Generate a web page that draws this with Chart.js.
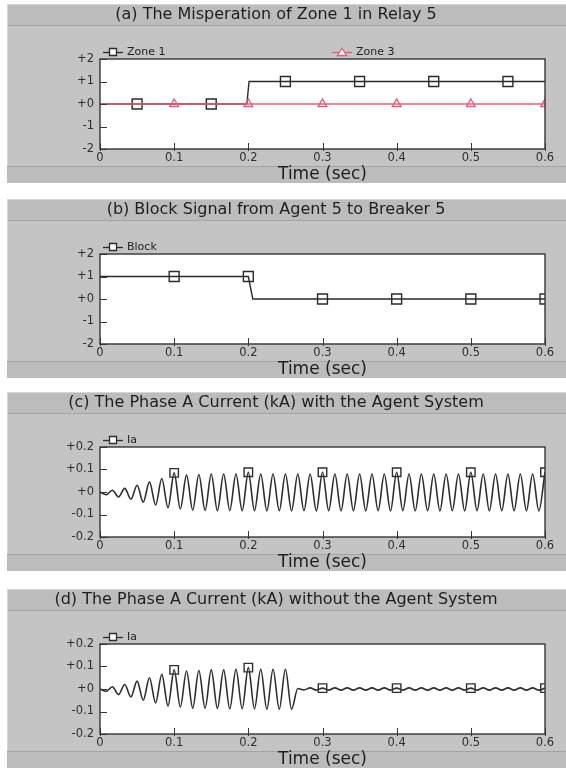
<!DOCTYPE html>
<html><head><meta charset="utf-8">
<script src="https://cdn.jsdelivr.net/npm/chart.js@4.4.1/dist/chart.umd.min.js"></script>
<style>
html,body{margin:0;padding:0;background:#fff;width:566px;height:768px;overflow:hidden;}
.panel{position:absolute;left:7px;width:559px;height:179px;}
canvas{display:block;}
</style></head><body>
<div class="panel" style="top:4px"><canvas id="cA" width="559" height="179"></canvas></div>
<div class="panel" style="top:199px"><canvas id="cB" width="559" height="179"></canvas></div>
<div class="panel" style="top:392px"><canvas id="cC" width="559" height="179"></canvas></div>
<div class="panel" style="top:589px"><canvas id="cD" width="559" height="179"></canvas></div>
<script>
// ---------- data ----------
const TITLES = [
  '(a) The Misperation of Zone 1 in Relay 5',
  '(b) Block Signal from Agent 5 to Breaker 5',
  '(c) The Phase A Current (kA) with the Agent System',
  '(d) The Phase A Current (kA) without the Agent System'
];
const X_TITLE = 'Time (sec)';
const X_TICK_VALUES = [0, 0.1, 0.2, 0.3, 0.4, 0.5, 0.6];
const X_TICK_LABELS = ['0', '0.1', '0.2', '0.3', '0.4', '0.5', '0.6'];
const Y_TICK_VALUES_STATE = [-2, -1, 0, 1, 2];
const Y_TICK_LABELS_STATE = ['-2', '-1', '+0', '+1', '+2'];
const Y_TICK_VALUES_CURRENT = [-0.2, -0.1, 0, 0.1, 0.2];
const Y_TICK_LABELS_CURRENT = ['-0.2', '-0.1', '+0', '+0.1', '+0.2'];

// (a) Zone 1 / Zone 3
const ZONE1_T = [0, 0.05, 0.15, 0.198, 0.201, 0.25, 0.35, 0.45, 0.55, 0.6];
const ZONE1_V = [0, 0, 0, 0, 1, 1, 1, 1, 1, 1];
const ZONE1_MARKS = [0.05, 0.15, 0.25, 0.35, 0.45, 0.55];
const ZONE3_T = [0, 0.1, 0.2, 0.3, 0.4, 0.5, 0.6];
const ZONE3_V = [0, 0, 0, 0, 0, 0, 0];
const ZONE3_MARKS = [0.1, 0.2, 0.3, 0.4, 0.5, 0.6];

// (b) Block
const BLOCK_T = [0, 0.1, 0.2, 0.206, 0.3, 0.4, 0.5, 0.6];
const BLOCK_V = [1, 1, 1, 0, 0, 0, 0, 0];
const BLOCK_MARKS = [0.1, 0.2, 0.3, 0.4, 0.5, 0.6];

// (c), (d) Ia : times of successive peaks / troughs (sec)
const IA_T = [0, 0.0083, 0.0167, 0.025, 0.0333, 0.0417, 0.05, 0.0583, 0.0667, 0.075, 0.0833, 0.0917, 0.1,
  0.1083, 0.1167, 0.125, 0.1333, 0.1417, 0.15, 0.1583, 0.1667, 0.175, 0.1833, 0.1917, 0.2,
  0.2083, 0.2167, 0.225, 0.2333, 0.2417, 0.25, 0.2583, 0.2667, 0.275, 0.2833, 0.2917, 0.3,
  0.3083, 0.3167, 0.325, 0.3333, 0.3417, 0.35, 0.3583, 0.3667, 0.375, 0.3833, 0.3917, 0.4,
  0.4083, 0.4167, 0.425, 0.4333, 0.4417, 0.45, 0.4583, 0.4667, 0.475, 0.4833, 0.4917, 0.5,
  0.5083, 0.5167, 0.525, 0.5333, 0.5417, 0.55, 0.5583, 0.5667, 0.575, 0.5833, 0.5917, 0.6];
const IA_WITH = [0, -0.012, 0.008, -0.022, 0.016, -0.032, 0.03, -0.045, 0.045, -0.058, 0.06, -0.07, 0.085,
  -0.075, 0.075, -0.08, 0.078, -0.082, 0.08, -0.083, 0.08, -0.082, 0.08, -0.083, 0.088,
  -0.083, 0.08, -0.084, 0.08, -0.083, 0.08, -0.084, 0.08, -0.083, 0.08, -0.084, 0.088,
  -0.083, 0.08, -0.084, 0.08, -0.083, 0.08, -0.084, 0.08, -0.083, 0.08, -0.084, 0.088,
  -0.083, 0.08, -0.084, 0.08, -0.083, 0.08, -0.084, 0.08, -0.083, 0.08, -0.084, 0.088,
  -0.083, 0.08, -0.084, 0.08, -0.083, 0.08, -0.084, 0.08, -0.083, 0.08, -0.084, 0.088];
const IA_WITHOUT = [0, -0.01, 0.01, -0.025, 0.02, -0.035, 0.035, -0.05, 0.05, -0.062, 0.065, -0.075, 0.085,
  -0.08, 0.08, -0.085, 0.082, -0.085, 0.085, -0.086, 0.085, -0.088, 0.088, -0.088, 0.095,
  -0.088, 0.088, -0.09, 0.088, -0.09, 0.088, -0.09, 0.002, -0.004, 0.005, -0.005, 0.004,
  -0.005, 0.005, -0.005, 0.005, -0.005, 0.005, -0.005, 0.005, -0.005, 0.005, -0.005, 0.004,
  -0.005, 0.005, -0.005, 0.005, -0.005, 0.005, -0.005, 0.005, -0.005, 0.005, -0.005, 0.004,
  -0.005, 0.005, -0.005, 0.005, -0.005, 0.005, -0.005, 0.005, -0.005, 0.005, -0.005, 0.004];
const IA_MARKS = [0.1, 0.2, 0.3, 0.4, 0.5, 0.6];

// ---------- helpers ----------
const FONT = 'DejaVu Sans';
function series(times, values, marks, r) {
  const data = times.map((t, i) => ({x: t, y: values[i]}));
  const radii = times.map(t => marks.some(m => Math.abs(m - t) < 1e-6) ? r : 0);
  return {data, radii};
}
function lineDataset(label, s, color, style, width, smooth) {
  return {
    label, data: s.data, borderColor: color, borderWidth: width,
    pointStyle: style, pointRadius: s.radii, pointHoverRadius: s.radii,
    pointBorderColor: color, pointBackgroundColor: 'rgba(0,0,0,0)', pointBorderWidth: 1.4,
    tension: 0, fill: false, cubicInterpolationMode: smooth ? 'monotone' : 'default'
  };
}

const decoPlugin = {
  id: 'deco',
  beforeDraw(chart) {
    const {ctx, width, height, chartArea: ca} = chart;
    ctx.save();
    ctx.fillStyle = '#c4c4c4'; ctx.fillRect(0, 0, width, height);
    ctx.fillStyle = '#bcbcbc'; ctx.fillRect(0, 0, width, 21);
    ctx.fillStyle = '#a4a4a4'; ctx.fillRect(0, 21, width, 1);
    ctx.fillStyle = '#d6d6d6'; ctx.fillRect(0, 0, width, 1); ctx.fillRect(0, 0, 1, height);
    const bb = ca.bottom + 17;
    ctx.fillStyle = '#bcbcbc'; ctx.fillRect(0, bb, width, height - bb);
    ctx.fillStyle = '#a4a4a4'; ctx.fillRect(0, bb, width, 1);
    ctx.fillStyle = '#ffffff'; ctx.fillRect(ca.left, ca.top, ca.right - ca.left, ca.bottom - ca.top);
    ctx.restore();
  },
  afterDatasetsDraw(chart) {
    const {ctx, chartArea: ca, scales} = chart;
    ctx.save();
    ctx.strokeStyle = '#363636'; ctx.lineWidth = 1.4;
    ctx.strokeRect(ca.left, ca.top, ca.right - ca.left, ca.bottom - ca.top);
    ctx.lineWidth = 1;
    ctx.beginPath();
    scales.x.ticks.forEach(t => {
      const px = Math.round(scales.x.getPixelForValue(t.value)) + 0.5;
      ctx.moveTo(px, ca.bottom - 6); ctx.lineTo(px, ca.bottom + 2);
    });
    scales.y.ticks.forEach(t => {
      const py = Math.round(scales.y.getPixelForValue(t.value)) + 0.5;
      ctx.moveTo(ca.left, py); ctx.lineTo(ca.left + 7, py);
    });
    ctx.stroke();
    ctx.restore();
  },
  afterDraw(chart, args, opts) {
    const {ctx, chartArea: ca} = chart;
    const offs = opts.offsets || [3];
    chart.data.datasets.forEach((ds, i) => {
      const x0 = ca.left + offs[i];
      const y = ca.top - 7;
      ctx.save();
      ctx.strokeStyle = ds.borderColor; ctx.lineWidth = 1.3;
      ctx.beginPath(); ctx.moveTo(x0, y + 0.5); ctx.lineTo(x0 + 20, y + 0.5); ctx.stroke();
      const cx = x0 + 10;
      ctx.fillStyle = '#ffffff';
      ctx.beginPath();
      if (ds.pointStyle === 'triangle') {
        ctx.moveTo(cx, y - 4); ctx.lineTo(cx + 4.5, y + 3.5); ctx.lineTo(cx - 4.5, y + 3.5); ctx.closePath();
      } else {
        ctx.rect(cx - 3.5, y - 3.5, 7, 7);
      }
      ctx.fill(); ctx.stroke();
      ctx.fillStyle = '#222';
      ctx.font = '11px "' + FONT + '"';
      ctx.textBaseline = 'middle';
      ctx.fillText(ds.label, x0 + 24, y);
      ctx.restore();
    });
  }
};

function makeChart(id, title, datasets, yVals, yLabels, legendOffsets) {
  new Chart(document.getElementById(id), {
    type: 'line',
    data: {datasets},
    plugins: [decoPlugin],
    options: {
      responsive: false, animation: false, events: [],
      layout: {padding: {left: 0, right: 21, top: 0, bottom: 0}},
      plugins: {
        legend: {display: false}, tooltip: {enabled: false},
        title: {display: true, text: title, color: '#1e1e1e',
          font: {family: FONT, size: 16, weight: 'normal', lineHeight: 1.2},
          padding: {top: 1, bottom: 34.8}},
        deco: {offsets: legendOffsets}
      },
      scales: {
        x: {
          type: 'linear', min: 0, max: 0.6,
          afterBuildTicks: s => { s.ticks = X_TICK_VALUES.map(v => ({value: v})); },
          ticks: {callback: (v, i) => X_TICK_LABELS[i], color: '#2e2e2e', padding: 2,
            font: {family: FONT, size: 11.5}, maxRotation: 0, autoSkip: false},
          grid: {display: false, drawTicks: false}, border: {display: false},
          title: {display: true, text: X_TITLE, color: '#1e1e1e', padding: 0,
            font: {family: FONT, size: 17, lineHeight: 1}},
          afterFit: s => { s.height = 34; }
        },
        y: {
          type: 'linear', min: yVals[0], max: yVals[yVals.length - 1],
          afterBuildTicks: s => { s.ticks = yVals.map(v => ({value: v})); },
          ticks: {callback: (v, i) => yLabels[i], color: '#2e2e2e', padding: 6,
            font: {family: FONT, size: 11.5}, autoSkip: false},
          grid: {display: false, drawTicks: false}, border: {display: false},
          afterFit: s => { s.width = 93; }
        }
      }
    }
  });
}

const RED = '#e0607a', BLK = '#2a2a2a';
const zone1 = lineDataset('Zone 1', series(ZONE1_T, ZONE1_V, ZONE1_MARKS, 7), BLK, 'rect', 1.4, false);
const zone3 = lineDataset('Zone 3', series(ZONE3_T, ZONE3_V, ZONE3_MARKS, 5), RED, 'triangle', 1.6, false);
zone1.order = 1; zone3.order = 0;
makeChart('cA', TITLES[0], [zone1, zone3], Y_TICK_VALUES_STATE, Y_TICK_LABELS_STATE, [3, 232]);
makeChart('cB', TITLES[1],
  [lineDataset('Block', series(BLOCK_T, BLOCK_V, BLOCK_MARKS, 7), BLK, 'rect', 1.4, false)],
  Y_TICK_VALUES_STATE, Y_TICK_LABELS_STATE, [3]);
makeChart('cC', TITLES[2],
  [lineDataset('Ia', series(IA_T, IA_WITH, IA_MARKS, 6), '#2e2e2e', 'rect', 1.6, true)],
  Y_TICK_VALUES_CURRENT, Y_TICK_LABELS_CURRENT, [3]);
makeChart('cD', TITLES[3],
  [lineDataset('Ia', series(IA_T, IA_WITHOUT, IA_MARKS, 6), '#2e2e2e', 'rect', 1.6, true)],
  Y_TICK_VALUES_CURRENT, Y_TICK_LABELS_CURRENT, [3]);
</script>
</body></html>
